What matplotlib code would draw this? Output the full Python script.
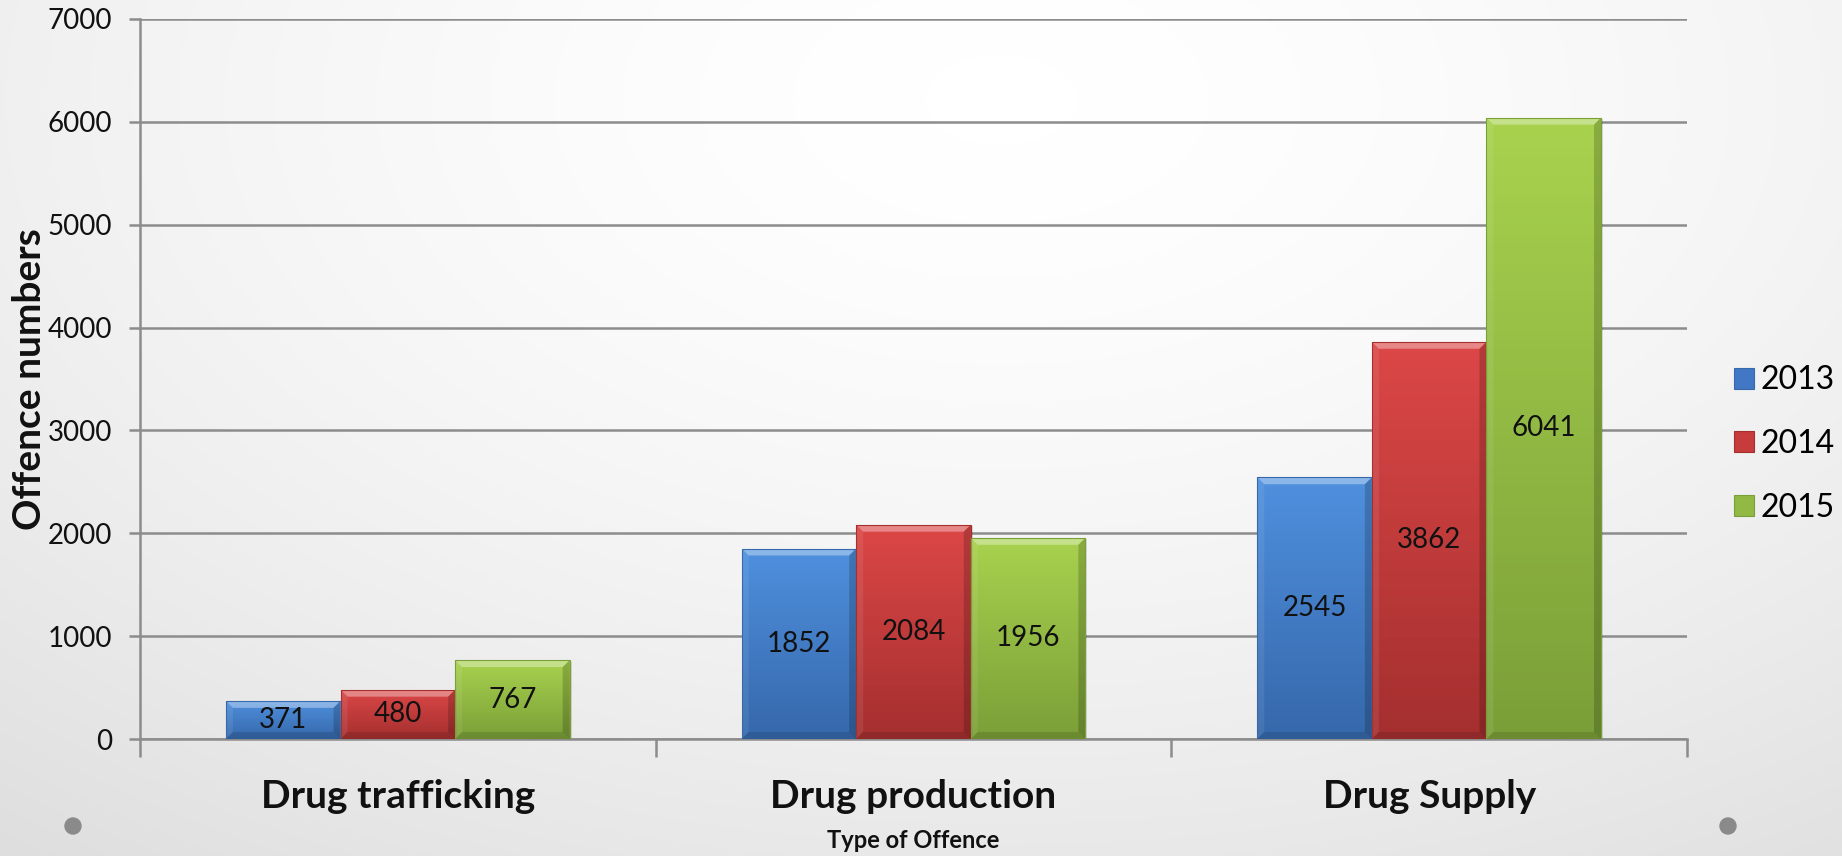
import numpy as np
import matplotlib
matplotlib.use("Agg")
import matplotlib.pyplot as plt
from matplotlib.patches import Rectangle, Polygon, Patch, Circle
from matplotlib.colors import LinearSegmentedColormap
import matplotlib.transforms as mtransforms

plt.rcParams['font.family'] = ['Lato', 'DejaVu Sans']

# data
categories = ["Drug trafficking", "Drug production", "Drug Supply"]
years = ["2013", "2014", "2015"]
v2013 = [371, 1852, 2545]
v2014 = [480, 2084, 3862]
v2015 = [767, 1956, 6041]
series = [v2013, v2014, v2015]

tops = ["#4f90de", "#dc4747", "#a8d24e"]
bottoms = ["#3668ab", "#a52f2f", "#7b9f38"]
mids = ["#4177c4", "#c63b3b", "#92b944"]

W, H = 1842, 856
fig = plt.figure(figsize=(W / 100, H / 100), dpi=100)

# background gradient
bg = fig.add_axes([0, 0, 1, 1], zorder=-10)
yy, xx = np.mgrid[0:H, 0:W]
d = np.sqrt(((xx - 1000) / 1100.0) ** 2 + ((yy - 100) / 650.0) ** 2)
val = np.clip(1 - 0.07 * d ** 1.6, 0, 1)
bg_cmap = LinearSegmentedColormap.from_list("bg", ["#000000", "#ffffff"], N=1024)
bg.imshow(val, cmap=bg_cmap, vmin=0, vmax=1, extent=[0, W, H, 0], aspect="auto",
          interpolation="bilinear")
bg.set_xlim(0, W)
bg.set_ylim(H, 0)
bg.axis("off")
for cx in (73, 1728):
    bg.add_patch(Circle((cx, 826), 8, color="#8a8a8a"))

ax = fig.add_axes([140 / W, 1 - 739 / H, (1687 - 140) / W, (739 - 19) / H])
ax.set_facecolor("none")
ax.set_xlim(-0.5, 2.5)
ax.set_ylim(0, 7000)

bw = 0.2222
px_x = (1687 - 140) / 3.0
px_y = (739 - 19) / 7000.0
dx = 7 / px_x
dy = 7 / px_y

x = np.arange(len(categories))
for i, vals in enumerate(series):
    cmap = LinearSegmentedColormap.from_list("c%d" % i, [bottoms[i], tops[i]])
    for j, v in enumerate(vals):
        x0 = x[j] + (i - 1) * bw - bw / 2
        x1 = x0 + bw
        # shadow
        ax.add_patch(Rectangle((x0 + 0.004, -15), bw, v, facecolor="#000000",
                               alpha=0.12, lw=0, zorder=2))
        rect = Rectangle((x0, 0), bw, v, facecolor=mids[i], edgecolor="none", zorder=3)
        ax.add_patch(rect)
        grad = np.linspace(1, 0, 64).reshape(-1, 1)
        im = ax.imshow(grad, cmap=cmap, extent=[x0, x1, 0, v], aspect="auto",
                       zorder=3.1, vmin=0, vmax=1)
        im.set_clip_path(rect)
        ddy = min(dy, v / 2)
        ax.add_patch(Polygon([(x0, v), (x1, v), (x1 - dx, v - ddy), (x0 + dx, v - ddy)],
                             closed=True, facecolor="white", alpha=0.35, lw=0, zorder=3.2))
        ax.add_patch(Polygon([(x0, 0), (x0, v), (x0 + dx, v - ddy), (x0 + dx, ddy)],
                             closed=True, facecolor="white", alpha=0.08, lw=0, zorder=3.2))
        ax.add_patch(Polygon([(x1, 0), (x1, v), (x1 - dx, v - ddy), (x1 - dx, ddy)],
                             closed=True, facecolor="black", alpha=0.18, lw=0, zorder=3.2))
        ax.add_patch(Polygon([(x0, 0), (x1, 0), (x1 - dx, ddy), (x0 + dx, ddy)],
                             closed=True, facecolor="black", alpha=0.12, lw=0, zorder=3.2))
        ax.add_patch(Rectangle((x0, 0), bw, v, facecolor="none", edgecolor=bottoms[i],
                               lw=0.8, zorder=3.3))
        ax.text(x0 + bw / 2, v / 2, str(v), ha="center", va="center",
                fontsize=20, color="#111111", zorder=5)

ax.set_yticks(range(0, 7001, 1000))
ax.yaxis.grid(True, color="#8c8c8c", lw=1.8)
ax.set_axisbelow(True)
ax.tick_params(axis="y", length=8, width=1.8, color="#8c8c8c", pad=12,
               labelsize=20, labelcolor="#111111")
ax.set_xticks([-0.5, 0.5, 1.5, 2.5])
ax.set_xticklabels([])
ax.tick_params(axis="x", length=13, width=1.8, color="#8c8c8c")
for s in ["top", "right"]:
    ax.spines[s].set_visible(False)
for s in ["left", "bottom"]:
    ax.spines[s].set_color("#8c8c8c")
    ax.spines[s].set_linewidth(1.8)

trans = mtransforms.blended_transform_factory(ax.transData, fig.transFigure)
for j, c in enumerate(categories):
    ax.text(x[j], 1 - 796 / H, c, transform=trans, ha="center", va="center",
            fontsize=28, fontweight="bold", color="#111111")

fig.text(913.5 / W, 1 - 840 / H, "Type of Offence", ha="center", va="center",
         fontsize=17, fontweight="bold", color="#111111")
fig.text(30 / W, 1 - 379 / H, "Offence numbers", ha="center", va="center",
         rotation=90, fontsize=28, fontweight="bold", color="#111111")

handles = [Patch(facecolor=mids[i], edgecolor=bottoms[i], lw=0.8, label=years[i])
           for i in range(3)]
fig.legend(handles=handles, loc="center left", bbox_to_anchor=(1734 / W, 1 - 444 / H),
           frameon=False, fontsize=23, handlelength=0.62, handleheight=0.62,
           handletextpad=0.2, labelspacing=1.05, borderpad=0, borderaxespad=0)

fig.savefig("out.png", dpi=100)
